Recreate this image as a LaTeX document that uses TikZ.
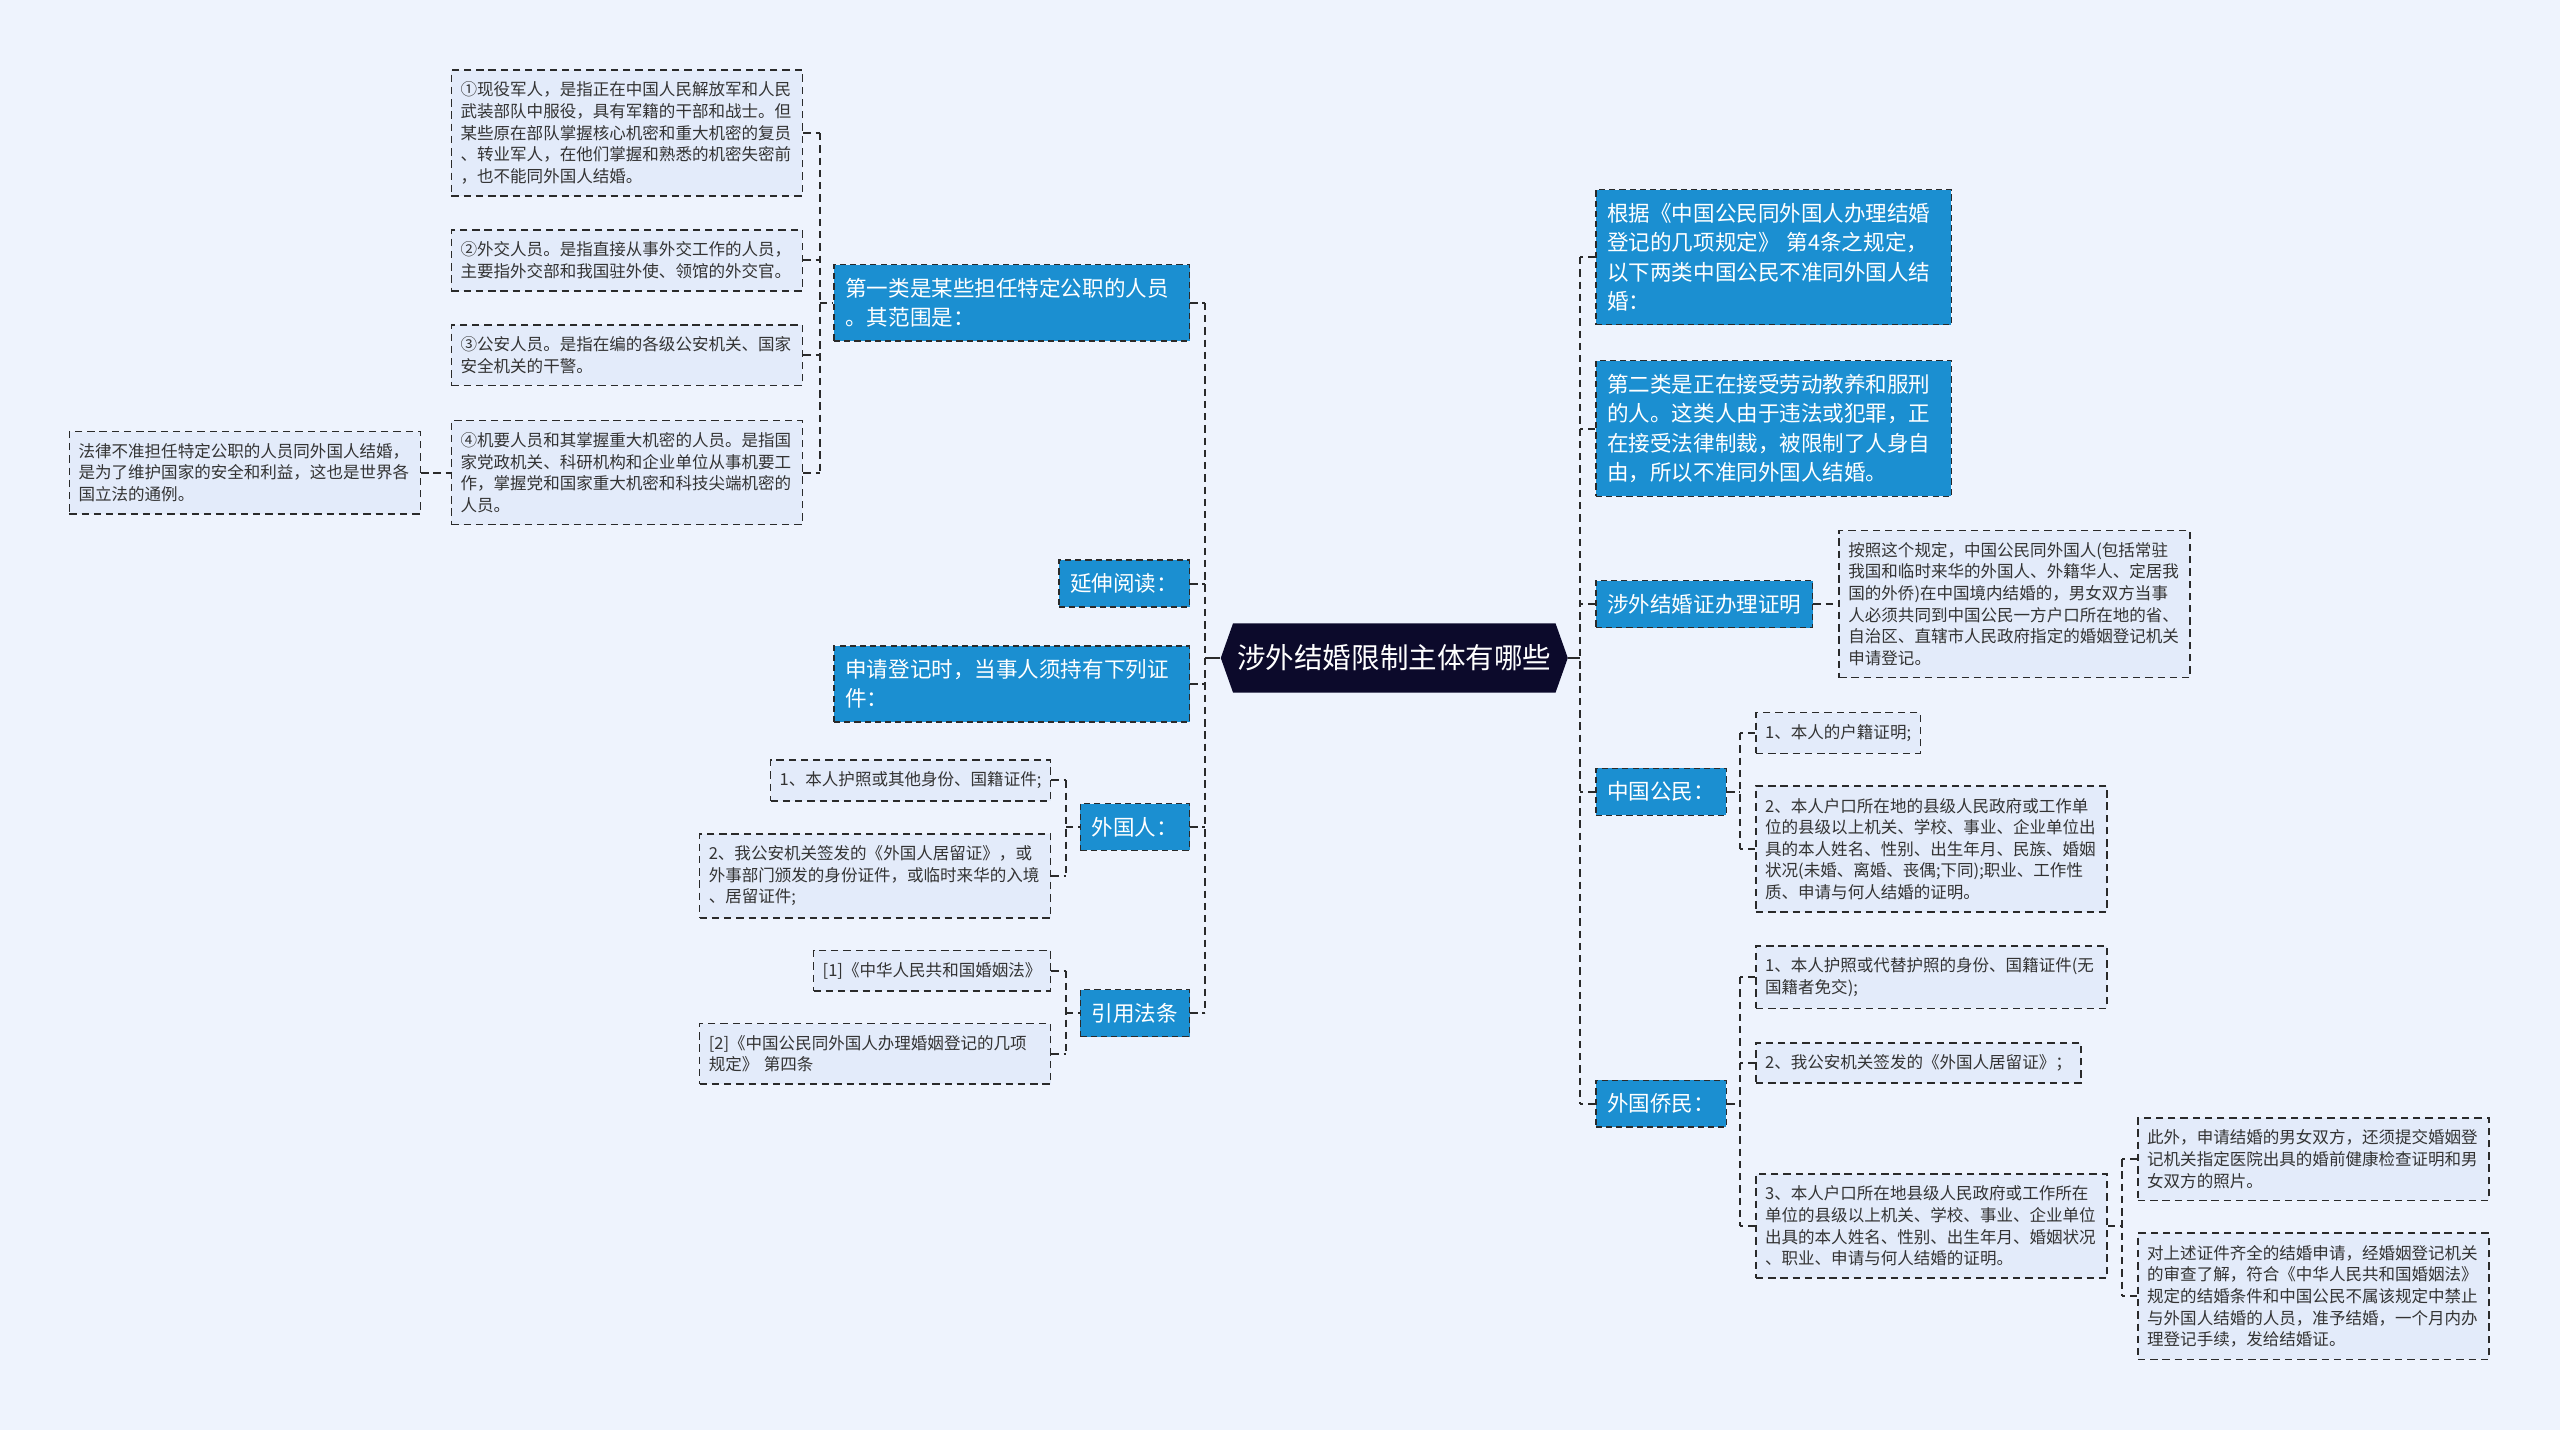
\documentclass[tikz,border=0pt]{standalone}
\usepackage{fontspec}
\setmainfont{Noto Sans CJK SC}
\usetikzlibrary{shapes.symbols}

\definecolor{paper}{HTML}{EEF3FD}
\definecolor{topicblue}{HTML}{1B8FD1}
\definecolor{notefill}{HTML}{E3EBFA}
\definecolor{inkline}{HTML}{2A2A2A}
\definecolor{notetext}{HTML}{333333}
\definecolor{rootnavy}{HTML}{0C0A2B}

\def\wrapw{163pt}

\tikzset{
  root/.style={signal, signal to=west and east, signal pointer angle=141, fill=rootnavy, text=white,
    inner xsep=2pt, minimum height=34pt, font=\fontsize{14}{16}\selectfont},
  topic/.style={draw=inkline, line width=0.7pt, dash pattern=on 3pt off 2pt, fill=topicblue, text=white,
    align=left, inner xsep=5.6pt, inner ysep=6.6pt, font=\fontsize{10.56}{14.4}\selectfont},
  note/.style={draw=inkline, line width=0.8pt, dash pattern=on 3.6pt off 2.4pt, fill=notefill, text=notetext,
    align=left, inner xsep=4.5pt, inner ysep=5.8pt, font=\fontsize{8.1}{10.6}\selectfont},
  wide/.style={text width=\wrapw},
  link/.style={draw=inkline, line width=1pt, dash pattern=on 3.6pt off 2.4pt},
  rootlink/.style={draw=inkline, line width=1.3pt}
}

\begin{document}
\begin{tikzpicture}[x=0.8pt,y=-0.8pt]
\fill[paper] (0,0) rectangle (1568,876);
\useasboundingbox (0,0) rectangle (1568,876);

\node[root] (root) at (854,403) {涉外结婚限制主体有哪些};

\node[topic,wide,anchor=east] (first) at (729,185.5) {第一类是某些担任特定公职的人员\\。其范围是：};
\node[topic,anchor=east] (reading) at (729,357.5) {延伸阅读：};
\node[topic,wide,anchor=east] (apply) at (729,419) {申请登记时，当事人须持有下列证\\件：};
\node[topic,anchor=east] (alien) at (729,506.5) {外国人：};
\node[topic,anchor=east] (laws) at (729,620.5) {引用法条};

\node[note,wide,anchor=east] (first1) at (492,81.5) {①现役军人，是指正在中国人民解放军和人民\\武装部队中服役，具有军籍的干部和战士。但\\某些原在部队掌握核心机密和重大机密的复员\\、转业军人，在他们掌握和熟悉的机密失密前\\，也不能同外国人结婚。};
\node[note,wide,anchor=east] (first2) at (492,159.5) {②外交人员。是指直接从事外交工作的人员，\\主要指外交部和我国驻外使、领馆的外交官。};
\node[note,wide,anchor=east] (first3) at (492,217.5) {③公安人员。是指在编的各级公安机关、国家\\安全机关的干警。};
\node[note,wide,anchor=east] (first4) at (492,289.5) {④机要人员和其掌握重大机密的人员。是指国\\家党政机关、科研机构和企业单位从事机要工\\作，掌握党和国家重大机密和科技尖端机密的\\人员。};
\node[note,wide,anchor=east] (first4n) at (258,289.5) {法律不准担任特定公职的人员同外国人结婚，\\是为了维护国家的安全和利益，这也是世界各\\国立法的通例。};

\node[note,anchor=east] (alien1) at (644,478) {1、本人护照或其他身份、国籍证件;};
\node[note,wide,anchor=east] (alien2) at (644,536.5) {2、我公安机关签发的《外国人居留证》，或\\外事部门颁发的身份证件，或临时来华的入境\\、居留证件;};
\node[note,anchor=east] (laws1) at (644,594.5) {[1]《中华人民共和国婚姻法》};
\node[note,wide,anchor=east] (laws2) at (644,645.5) {[2]《中国公民同外国人办理婚姻登记的几项\\规定》 第四条};

\node[topic,wide,anchor=west] (rule) at (977,157.5) {根据《中国公民同外国人办理结婚\\登记的几项规定》 第4条之规定，\\以下两类中国公民不准同外国人结\\婚：};
\node[topic,wide,anchor=west] (second) at (977,262.5) {第二类是正在接受劳动教养和服刑\\的人。这类人由于违法或犯罪，正\\在接受法律制裁，被限制了人身自\\由，所以不准同外国人结婚。};
\node[topic,anchor=west] (proof) at (977,370) {涉外结婚证办理证明};
\node[topic,anchor=west] (citizen) at (977,485) {中国公民：};
\node[topic,anchor=west] (overseas) at (977,676) {外国侨民：};

\node[note,wide,anchor=west] (proofn) at (1126,370) {按照这个规定，中国公民同外国人(包括常驻\\我国和临时来华的外国人、外籍华人、定居我\\国的外侨)在中国境内结婚的，男女双方当事\\人必须共同到中国公民一方户口所在地的省、\\自治区、直辖市人民政府指定的婚姻登记机关\\申请登记。};
\node[note,anchor=west] (citizen1) at (1075,449) {1、本人的户籍证明;};
\node[note,wide,anchor=west] (citizen2) at (1075,520) {2、本人户口所在地的县级人民政府或工作单\\位的县级以上机关、学校、事业、企业单位出\\具的本人姓名、性别、出生年月、民族、婚姻\\状况(未婚、离婚、丧偶;下同);职业、工作性\\质、申请与何人结婚的证明。};
\node[note,wide,anchor=west] (overseas1) at (1075,598.5) {1、本人护照或代替护照的身份、国籍证件(无\\国籍者免交);};
\node[note,anchor=west] (overseas2) at (1075,651) {2、我公安机关签发的《外国人居留证》；};
\node[note,wide,anchor=west] (overseas3) at (1075,751) {3、本人户口所在地县级人民政府或工作所在\\单位的县级以上机关、学校、事业、企业单位\\出具的本人姓名、性别、出生年月、婚姻状况\\、职业、申请与何人结婚的证明。};
\node[note,wide,anchor=west] (extra1) at (1309,710) {此外，申请结婚的男女双方，还须提交婚姻登\\记机关指定医院出具的婚前健康检查证明和男\\女双方的照片。};
\node[note,wide,anchor=west] (extra2) at (1309,794) {对上述证件齐全的结婚申请，经婚姻登记机关\\的审查了解，符合《中华人民共和国婚姻法》\\规定的结婚条件和中国公民不属该规定中禁止\\与外国人结婚的人员，准予结婚，一个月内办\\理登记手续，发给结婚证。};

\coordinate (lt) at (738,403);
\coordinate (rt) at (968,403);
\coordinate (bf) at (502,0);
\coordinate (ba) at (653,0);
\coordinate (bc) at (1066,0);
\coordinate (be) at (1300,0);

\draw[rootlink] (root.west) -- (root.west -| lt);
\draw[rootlink] (root.east) -- (root.east -| rt);
\draw[link] (first.east -| lt) -- (laws.east -| lt);
\draw[link] (rule.west -| rt) -- (overseas.west -| rt);
\foreach \n in {first,reading,apply,alien,laws}
  \draw[link] (\n.east) -- (\n.east -| lt);
\foreach \n in {rule,second,proof,citizen,overseas}
  \draw[link] (\n.west) -- (\n.west -| rt);

\draw[link] (first1.east -| bf) -- (first4.east -| bf);
\foreach \n in {first1,first2,first3,first4}
  \draw[link] (\n.east) -- (\n.east -| bf);
\draw[link] (bf |- first.west) -- (first.west);
\draw[link] (first4n) -- (first4);

\draw[link] (alien1.east -| ba) -- (alien2.east -| ba);
\draw[link] (laws1.east -| ba) -- (laws2.east -| ba);
\foreach \n in {alien1,alien2,laws1,laws2}
  \draw[link] (\n.east) -- (\n.east -| ba);
\draw[link] (ba |- alien.west) -- (alien.west);
\draw[link] (ba |- laws.west) -- (laws.west);

\draw[link] (proof) -- (proofn);

\draw[link] (citizen1.west -| bc) -- (citizen2.west -| bc);
\draw[link] (overseas1.west -| bc) -- (overseas3.west -| bc);
\foreach \n in {citizen1,citizen2,overseas1,overseas2,overseas3}
  \draw[link] (\n.west) -- (\n.west -| bc);
\draw[link] (citizen.east) -- (bc |- citizen.east);
\draw[link] (overseas.east) -- (bc |- overseas.east);

\draw[link] (extra1.west -| be) -- (extra2.west -| be);
\foreach \n in {extra1,extra2}
  \draw[link] (\n.west) -- (\n.west -| be);
\draw[link] (overseas3.east) -- (be |- overseas3.east);

\end{tikzpicture}
\end{document}
